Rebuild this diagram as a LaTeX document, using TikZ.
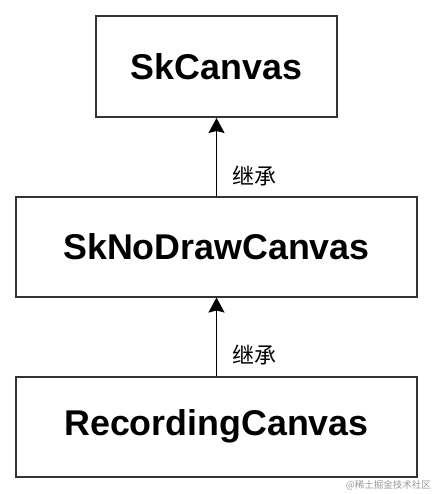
\documentclass[tikz,border=0pt]{standalone}
\usepackage{fontspec}
\setmainfont{Liberation Sans}
\newfontfamily\cjk{Noto Sans CJK SC}
\usetikzlibrary{arrows.meta}
\begin{document}
\begin{tikzpicture}[x=1pt,y=-1pt,
  classbox/.style={draw=black!80,line width=2pt,fill=white,inner sep=0pt,
    font=\fontsize{35.8}{40}\selectfont\bfseries},
  inherit/.style={line width=1.5pt,-{Stealth[length=15pt,width=16pt,inset=2pt]}},
  lbl/.style={font=\cjk\fontsize{22}{24}\selectfont,inner sep=0pt,anchor=west}]
\useasboundingbox[fill=white] (0,0) rectangle (434,494);
\node[classbox,minimum width=241pt,minimum height=101pt] (sk) at (216.5,66.5) {SkCanvas};
\node[classbox,minimum width=401pt,minimum height=100pt] (nd) at (216.5,246.5) {SkNoDrawCanvas};
\node[classbox,minimum width=401pt,minimum height=100pt] (rc) at (216.5,426.5) {RecordingCanvas};
\draw[inherit] (nd.north) -- (sk.south);
\draw[inherit] (rc.north) -- (nd.south);
\node[lbl] (l1) at (232,176) {继承};
\node[lbl] (l2) at (232,355) {继承};
\node[font=\cjk\fontsize{9.5}{10}\selectfont,text=black!40,inner sep=0pt,anchor=east] (wm) at (431,485) {@稀土掘金技术社区};
\end{tikzpicture}
\end{document}
